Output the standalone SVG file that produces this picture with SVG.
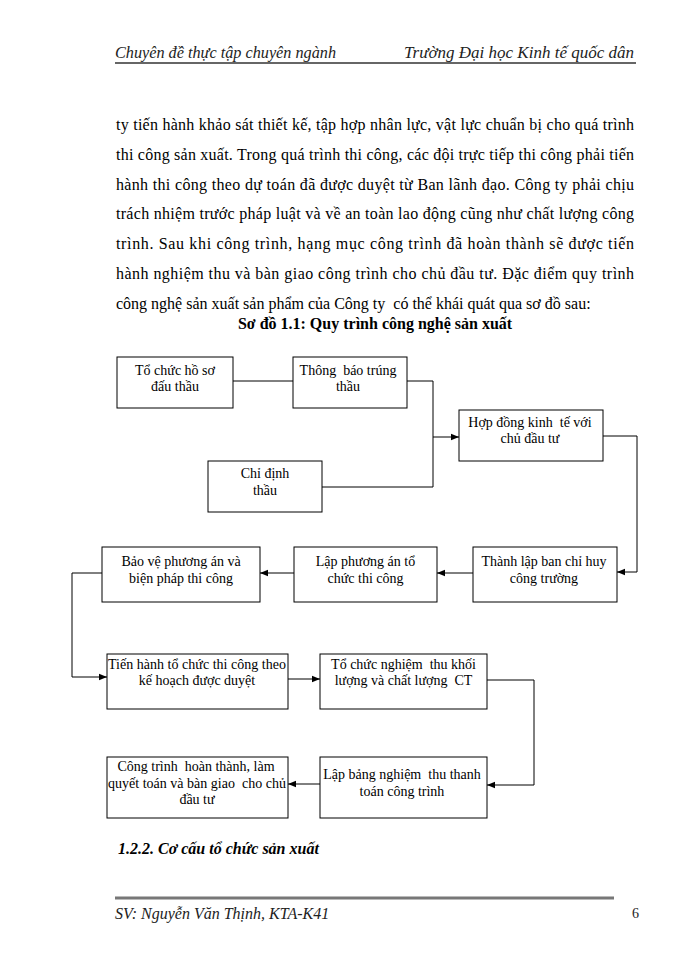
<svg xmlns="http://www.w3.org/2000/svg" width="700" height="960" viewBox="0 0 700 960">
<style>
.hdr{font-family:"Liberation Serif",serif;font-style:italic;font-size:16px;fill:#222}
.body{font-family:"Liberation Serif",serif;font-size:16px;fill:#000;white-space:pre}
.ttl{font-family:"Liberation Serif",serif;font-size:16px;font-weight:bold;fill:#000}
.sec{font-family:"Liberation Serif",serif;font-size:16px;font-weight:bold;font-style:italic;fill:#000}
.box{fill:#fff;stroke:#000;stroke-width:1}
.lbl{font-family:"Liberation Serif",serif;font-size:14px;fill:#000;text-anchor:middle;white-space:pre}
.con{fill:none;stroke:#000;stroke-width:1}
.arr{marker-end:url(#ah)}
</style>
<defs>
<marker id="ah" markerUnits="userSpaceOnUse" markerWidth="8" markerHeight="8" viewBox="0 0 8 8" refX="8" refY="4" orient="auto">
<path d="M0,0.8 L8,4 L0,7.2 Z" fill="#000"/>
</marker>
</defs>
<rect width="700" height="960" fill="#fff"/>

<g id="header">
<text class="hdr" x="115" y="58" textLength="221" lengthAdjust="spacingAndGlyphs">Chuyên đề thực tập chuyên ngành</text>
<text class="hdr" x="404" y="58" textLength="230" lengthAdjust="spacingAndGlyphs">Trường Đại học Kinh tế quốc dân</text>
<line x1="115" y1="63" x2="636" y2="63" stroke="#333" stroke-width="1.5"/>
</g>

<g id="paragraph">
<text class="body" x="116" y="130" textLength="518" lengthAdjust="spacing">ty tiến hành khảo sát thiết kế, tập hợp nhân lực, vật lực chuẩn bị cho quá trình</text>
<text class="body" x="116" y="160" textLength="518" lengthAdjust="spacing">thi công sản xuất. Trong quá trình thi công, các đội trực tiếp thi công phải tiến</text>
<text class="body" x="116" y="189.5" textLength="518" lengthAdjust="spacing">hành thi công theo dự toán đã được duyệt từ Ban lãnh đạo. Công ty phải chịu</text>
<text class="body" x="116" y="219" textLength="518" lengthAdjust="spacing">trách nhiệm trước pháp luật và về an toàn lao động cũng như chất lượng công</text>
<text class="body" x="116" y="249" textLength="518" lengthAdjust="spacing">trình. Sau khi công trình, hạng mục công trình đã hoàn thành sẽ được tiến</text>
<text class="body" x="116" y="279" textLength="518" lengthAdjust="spacing">hành nghiệm thu và bàn giao công trình cho chủ đầu tư. Đặc điểm quy trình</text>
<text class="body" x="116" y="308.5">công nghệ sản xuất sản phẩm của Công ty  có thể khái quát qua sơ đồ sau:</text>
<text class="ttl" x="375" y="329" text-anchor="middle">Sơ đồ 1.1: Quy trình công nghệ sản xuất</text>
</g>

<g id="connectors">
<polyline class="con" points="233,381 293,381"/>
<polyline class="con" points="407,381 433,381 433,487 322,487"/>
<polyline class="con arr" points="433,437 459,437"/>
<polyline class="con arr" points="603,436 637,436 637,572 617,572"/>
<polyline class="con arr" points="473,573 437,573"/>
<polyline class="con arr" points="294,573 260,573"/>
<polyline class="con arr" points="102,573 72,573 72,677 107,677"/>
<polyline class="con arr" points="288,679 320,679"/>
<polyline class="con arr" points="487,680 534,680 534,785 487,785"/>
<polyline class="con arr" points="320,784 288,784"/>
</g>

<g id="n1">
<rect class="box" x="117" y="357" width="116" height="51"/>
<text class="lbl" x="175" y="374.5">Tổ chức hồ sơ</text>
<text class="lbl" x="175" y="391">đấu thầu</text>
</g>
<g id="n2">
<rect class="box" x="293" y="357" width="114" height="51"/>
<text class="lbl" x="348" y="374.5">Thông  báo trúng</text>
<text class="lbl" x="348" y="391">thầu</text>
</g>
<g id="n3">
<rect class="box" x="459" y="410" width="144" height="51"/>
<text class="lbl" x="530" y="427">Hợp đồng kinh  tế với</text>
<text class="lbl" x="530" y="443">chủ đầu tư</text>
</g>
<g id="n4">
<rect class="box" x="208" y="461" width="114" height="51"/>
<text class="lbl" x="265" y="478">Chỉ định</text>
<text class="lbl" x="265" y="495">thầu</text>
</g>
<g id="n5">
<rect class="box" x="102" y="547" width="158" height="55"/>
<text class="lbl" x="181" y="566">Bảo vệ phương án và</text>
<text class="lbl" x="181" y="583">biện pháp thi công</text>
</g>
<g id="n6">
<rect class="box" x="294" y="547" width="143" height="55"/>
<text class="lbl" x="365.5" y="566">Lập phương án tổ</text>
<text class="lbl" x="365.5" y="583">chức thi công</text>
</g>
<g id="n7">
<rect class="box" x="473" y="547" width="144" height="55"/>
<text class="lbl" x="544" y="566">Thành lập ban chỉ huy</text>
<text class="lbl" x="544" y="583">công trường</text>
</g>
<g id="n8">
<rect class="box" x="107" y="654" width="181" height="55"/>
<text class="lbl" x="197" y="669" textLength="178" lengthAdjust="spacing">Tiến hành tổ chức thi công theo</text>
<text class="lbl" x="197" y="685">kế hoạch được duyệt</text>
</g>
<g id="n9">
<rect class="box" x="320" y="654" width="167" height="55"/>
<text class="lbl" x="403.5" y="669">Tổ chức nghiệm  thu khối</text>
<text class="lbl" x="403.5" y="685">lượng và chất lượng  CT</text>
</g>
<g id="n10">
<rect class="box" x="107" y="757" width="181" height="61"/>
<text class="lbl" x="196" y="771">Công trình  hoàn thành, làm</text>
<text class="lbl" x="197" y="788" textLength="178" lengthAdjust="spacing">quyết toán và bàn giao  cho chủ</text>
<text class="lbl" x="197" y="804">đầu tư</text>
</g>
<g id="n11">
<rect class="box" x="320" y="757" width="167" height="61"/>
<text class="lbl" x="402" y="779">Lập bảng nghiệm  thu thanh</text>
<text class="lbl" x="402" y="796">toán công trình</text>
</g>

<g id="section">
<text class="sec" x="118" y="854">1.2.2. Cơ cấu tổ chức sản xuất</text>
</g>

<g id="footer">
<line x1="115" y1="898" x2="614" y2="898" stroke="#777" stroke-width="3"/>
<text class="hdr" x="115" y="919">SV: Nguyễn Văn Thịnh, KTA-K41</text>
<text x="632" y="918" font-family="Liberation Serif, serif" font-size="14" fill="#222">6</text>
</g>
</svg>
